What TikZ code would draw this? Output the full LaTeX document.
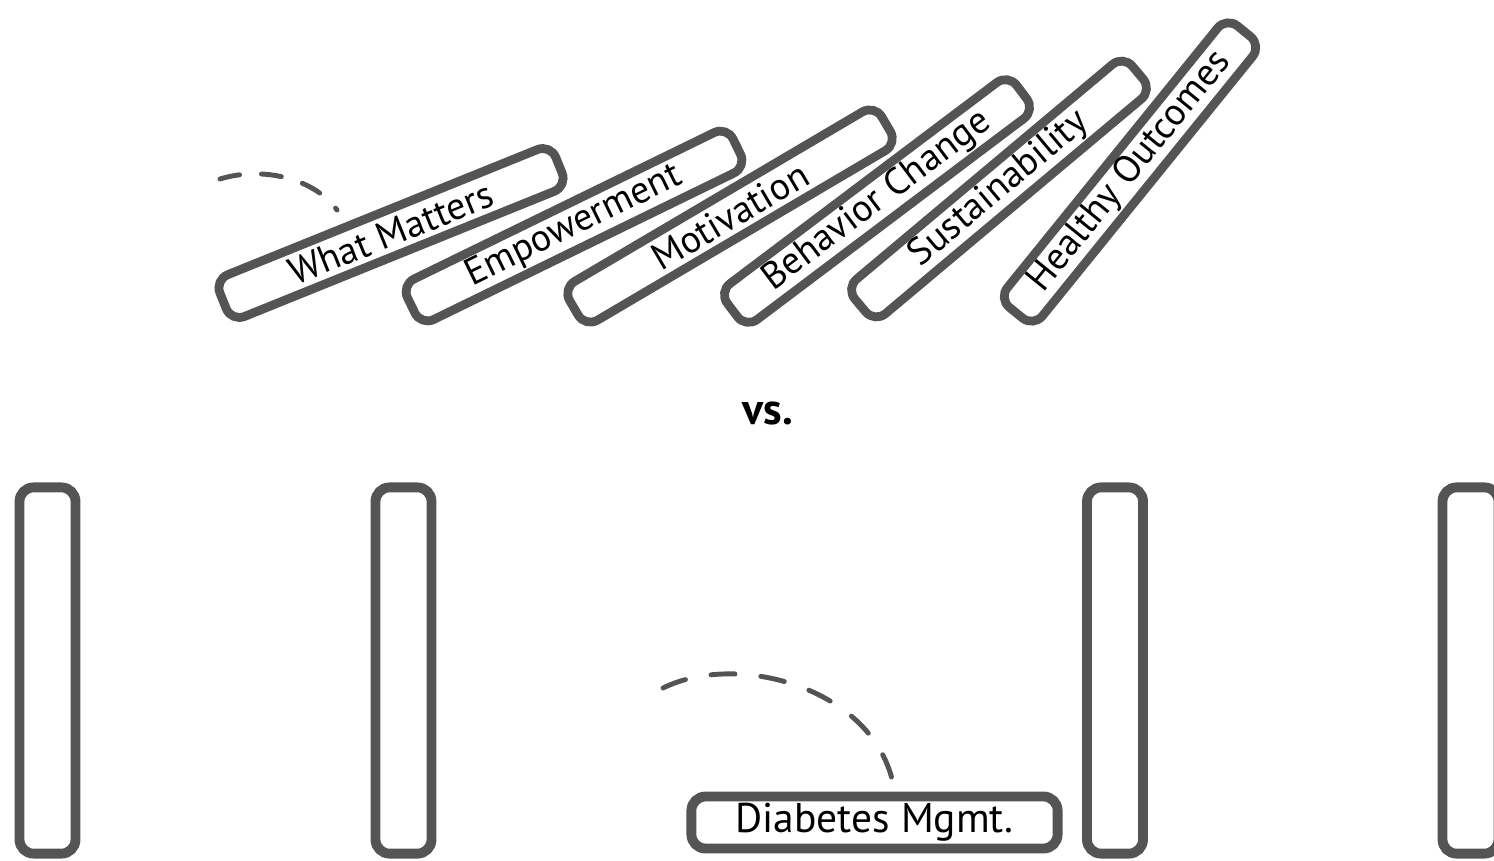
\documentclass[tikz,border=0pt]{standalone}
\usepackage{fontspec}
\setmainfont{PT Sans}
\definecolor{ink}{gray}{0.33}

\tikzstyle{tile} = [draw=ink, line width=2.5pt, fill=white, rounded corners=4pt, minimum width=3.62cm, minimum height=0.45cm, inner sep=0pt, font=\fontsize{10.8}{12}\selectfont]
\tikzstyle{upright} = [draw=ink, line width=2.8pt, rounded corners=4pt, minimum width=0.56cm, minimum height=3.66cm]
\tikzstyle{flight} = [draw=ink, line width=1.4pt, dash pattern=on 0.2cm off 0.22cm, line cap=round]

\begin{document}
\begin{tikzpicture}[x=0.01cm, y=-0.01cm]
\useasboundingbox (0,0) rectangle (1494,860);
% falling row
\node[tile, rotate=22] (what) at (391,233) {What Matters};
\node[tile, rotate=26] (empower) at (574,226) {Empowerment};
\node[tile, rotate=30.5] (motiv) at (730,216) {Motivation};
\node[tile, rotate=37] (behav) at (877,201) {Behavior Change};
\node[tile, rotate=40] (sustain) at (999,189) {Sustainability};
\node[tile, rotate=51] (health) at (1130,172) {Healthy Outcomes};
\coordinate (hop1) at (220,179);
\draw[flight] (hop1) .. controls (262,166) and (314,178) .. (337,210);

\node[font=\fontsize{12.5}{14}\selectfont\bfseries] (vs) at (768,413) {vs.};

% standing row
\node[upright] (stand1) at (47.5,670.5) {};
\node[upright] (stand2) at (403.5,670.5) {};
\node[upright] (stand3) at (1115,670.5) {};
\node[upright] (stand4) at (1470.5,670.5) {};
\node[tile, line width=2.8pt, minimum width=3.66cm, minimum height=0.52cm, font=\fontsize{11.8}{13}\selectfont] (diab) at (874.5,822.5) {Diabetes Mgmt.};
\coordinate (hop2) at (663,688);
\draw[flight, dash pattern=on 0.24cm off 0.26cm] (hop2) .. controls (740,650) and (880,690) .. ([xshift=0.2cm]diab.north);
\end{tikzpicture}
\end{document}
